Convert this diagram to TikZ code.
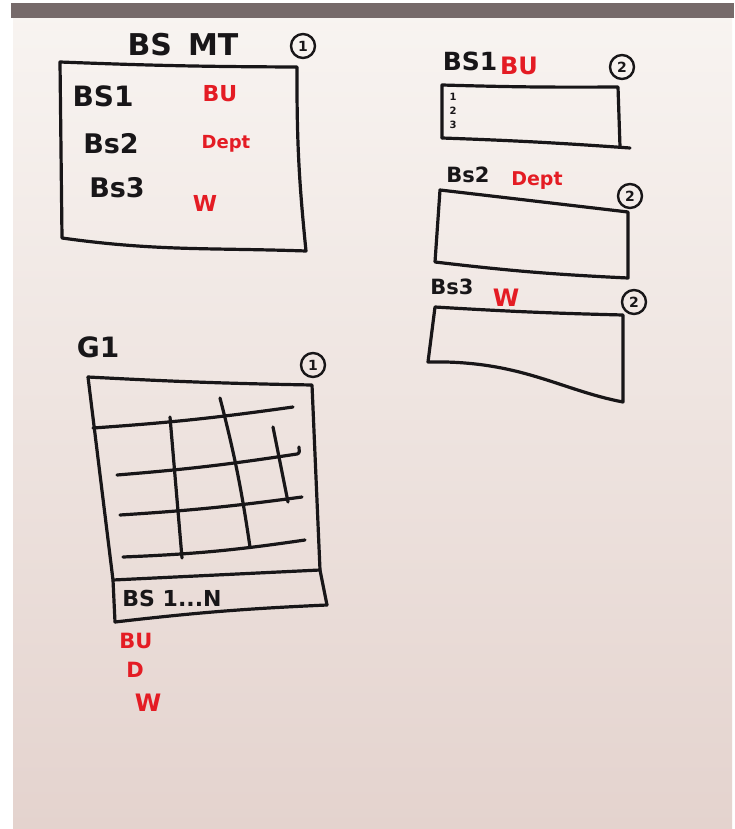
\documentclass[tikz,border=0pt]{standalone}
\usepackage{fontspec}
\newfontfamily\handfont{DejaVu Sans}
\definecolor{paper}{RGB}{248,244,241}
\definecolor{paperlow}{RGB}{228,211,206}
\definecolor{band}{RGB}{118,106,106}
\definecolor{ink}{RGB}{24,22,24}
\definecolor{redink}{RGB}{228,28,36}
\tikzset{
  pen/.style={line width=3.2pt, draw=ink, line cap=round, line join=round},
  blackword/.style={inner sep=0pt, text=ink, font=\handfont\bfseries\fontsize{#1}{#1}\selectfont},
  redword/.style={inner sep=0pt, text=redink, font=\handfont\bfseries\fontsize{#1}{#1}\selectfont},
  ring/.style={circle, draw=ink, line width=2.4pt, minimum size=24pt, inner sep=0pt,
    text=ink, font=\handfont\bfseries\fontsize{14}{14}\selectfont}
}
\begin{document}
\begin{tikzpicture}[x=1pt,y=-1pt]
		%%%%% START %%%%%
		\useasboundingbox (0,0) rectangle (734,829);
		\fill[white] (0,0) rectangle (734,829);
		\shade[top color=paper, bottom color=paperlow] (13,10) rectangle (732,829);
		\fill[band] (11,3) rectangle (734,18);
		
		% BS MT table
		\node[blackword=30] (bsmt) at (183,45) {BS\hspace{16pt}MT};
		\node[ring] (bsmtnum) at (303,46) {1};
		\draw[pen] (60,62) to[bend right=1] (297,67) to[bend right=3] (306,251)
			to[out=178,in=-8] (62,238) -- cycle;
		\node[blackword=28] (bsa) at (103,96) {BS1};
		\node[blackword=27] (bsb) at (111,144) {Bs2};
		\node[blackword=27] (bsc) at (117,188) {Bs3};
		\node[redword=22] (bua) at (220,94) {BU};
		\node[redword=18] (depta) at (226,144) {Dept};
		\node[redword=22] (wa) at (205,203) {W};
		
		% BS1 list
		\node[blackword=25] (bsone) at (470,61) {BS1};
		\node[redword=24] (buone) at (519,66) {BU};
		\node[ring] (bsonenum) at (622,67) {2};
		\draw[pen] (442,138) -- (442,85) to[bend right=1] (618,87) -- (620,147);
		\draw[pen] (442,138) to[bend left=1] (630,148);
		\node[blackword=10] (rowa) at (453,97) {1};
		\node[blackword=10] (rowb) at (453,111) {2};
		\node[blackword=10] (rowc) at (453,125) {3};
		
		% BS2 list
		\node[blackword=21] (bstwo) at (468,175) {Bs2};
		\node[redword=19] (depttwo) at (537,181) {Dept};
		\node[ring] (bstwonum) at (630,196) {2};
		\draw[pen] (440,190) -- (628,212) -- (628,278) to[bend left=2] (435,262) -- cycle;
		
		% BS3 list
		\node[blackword=21] (bsthree) at (452,287) {Bs3};
		\node[redword=24] (wthree) at (506,298) {W};
		\node[ring] (bsthreenum) at (634,302) {2};
		\draw[pen] (435,307) to[bend right=1] (623,315) -- (623,402)
			.. controls (560,390) and (520,360) .. (428,362) -- cycle;
		
		% G1 grid
		\node[blackword=28] (gone) at (98,347) {G1};
		\node[ring] (gonenum) at (313,365) {1};
		\draw[pen] (88,377) to[bend right=1] (312,385) -- (320,570) -- (327,605);
		\draw[pen] (88,377) -- (113,580) -- (115,622);
		\draw[pen] (113,580) -- (320,570);
		\draw[pen] (115,622) to[bend left=2] (327,605);
		\draw[pen] (93,428) to[bend right=2] (293,407);
		\draw[pen] (117,475) to[bend right=2] (297,454) to[out=0,in=-80] (299,447);
		\draw[pen] (120,515) to[bend right=2] (302,497);
		\draw[pen] (123,557) to[bend right=3] (305,540);
		\draw[pen] (170,417) -- (182,558);
		\draw[pen] (220,398) to[bend left=3] (250,547);
		\draw[pen] (273,427) -- (288,502);
		\node[blackword=22] (bsrange) at (172,598) {BS 1...N};
		\node[redword=21] (bub) at (136,641) {BU};
		\node[redword=21] (db) at (135,670) {D};
		\node[redword=24] (wb) at (148,703) {W};
		%%%%% END %%%%%
	\end{tikzpicture}
\end{document}
